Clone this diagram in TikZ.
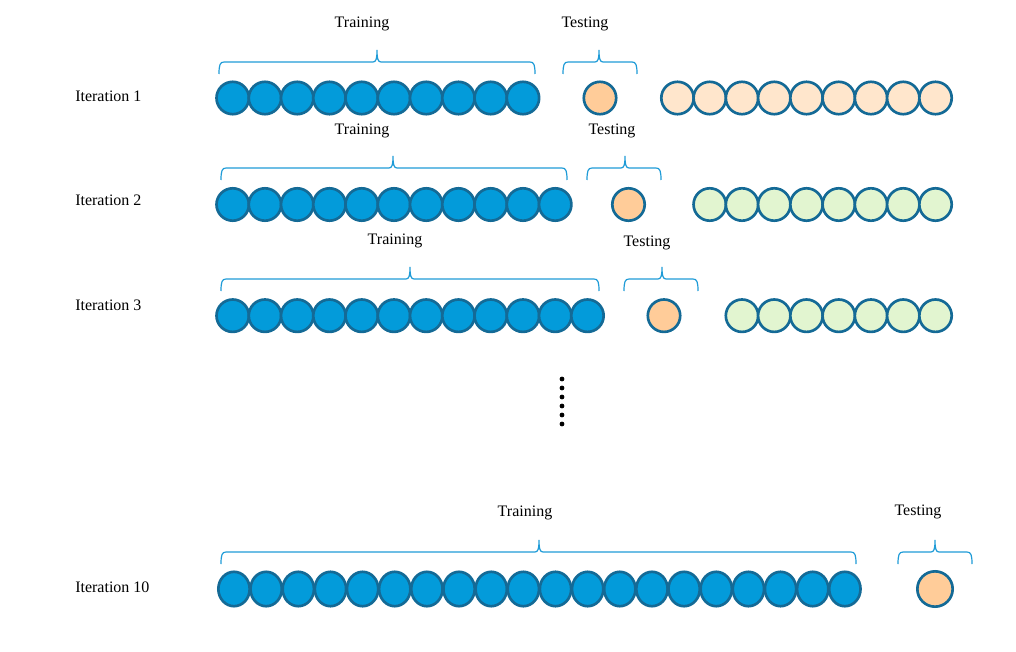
\documentclass[tikz,border=0pt]{standalone}
\usepackage{fontspec}
\setmainfont{Liberation Serif}
\usetikzlibrary{shapes.geometric}

\definecolor{trainblue}{RGB}{3,155,218}
\definecolor{ringblue}{RGB}{20,106,150}
\definecolor{testpeach}{RGB}{255,204,153}
\definecolor{restpeach}{RGB}{255,230,204}
\definecolor{restgreen}{RGB}{226,245,208}
\definecolor{braceblue}{RGB}{30,155,215}

\begin{document}
\begin{tikzpicture}[x=0.75pt,y=-0.75pt,
    ball/.style={circle,draw=ringblue,line width=2pt,minimum size=24.3pt,inner sep=0pt},
    longball/.style={ellipse,draw=ringblue,line width=2pt,minimum width=23.5pt,minimum height=25.8pt,inner sep=0pt},
    bracket/.style={draw=braceblue,line width=0.9pt},
    toptext/.style={font=\fontsize{12}{14}\selectfont,anchor=base,inner sep=0pt},
    itertext/.style={font=\fontsize{12}{14}\selectfont,anchor=base west,inner sep=0pt},
    dot/.style={circle,fill=black,minimum size=3.6pt,inner sep=0pt}]
  \useasboundingbox (0,0) rectangle (1016,652);

  %% Rows 1 to 3: training, testing and remaining folds
  \foreach \r/\y/\n/\s/\m/\col in {1/98/10/600/9/restpeach,2/204.5/11/628.5/8/restgreen,3/315.7/12/664/7/restgreen}
  {
    \foreach \i in {1,...,\n}
      \node[ball,fill=trainblue] (T\r-\i) at ({232.7+(\i-1)*32.25},\y) {};
    \node[ball,fill=testpeach] (S\r) at (\s,\y) {};
    \foreach \i in {1,...,\m}
      \node[ball,fill=\col] (R\r-\i) at ({935.5-(\m-\i)*32.25},\y) {};
  }

  %% Row 10
  \foreach \i in {1,...,20}
    \node[longball,fill=trainblue] (T10-\i) at ({234+(\i-1)*32.15},589) {};
  \node[ball,fill=testpeach,minimum size=26.5pt] (S10) at (935,589) {};

  %% Braces over the folds
  \foreach \a/\b/\c/\l in {219/535/377/62,563/637/599/62,
                           221/567/393/168,587/661/625/168,
                           221/599/410/279,624/698/662/279,
                           221/856/539/552,898/972/935/552}
  {
    \draw[bracket] (\a,\l+12) .. controls (\a,\l+3) and (\a+1,\l) .. (\a+5,\l)
      -- (\c-4,\l) .. controls (\c-1,\l) and (\c,\l-3) .. (\c,\l-12)
      .. controls (\c,\l-3) and (\c+1,\l) .. (\c+4,\l)
      -- (\b-5,\l) .. controls (\b-1,\l) and (\b,\l+3) .. (\b,\l+12);
  }

  %% Labels
  \node[toptext] (TR1) at (362,28) {Training};
  \node[toptext] (TE1) at (585,28) {Testing};
  \node[toptext] (TR2) at (362,135) {Training};
  \node[toptext] (TE2) at (612,135) {Testing};
  \node[toptext] (TR3) at (395,244) {Training};
  \node[toptext] (TE3) at (647,246) {Testing};
  \node[toptext] (TR10) at (525,516) {Training};
  \node[toptext] (TE10) at (918,515) {Testing};

  \node[itertext] (IT1) at (75,101.7) {Iteration 1};
  \node[itertext] (IT2) at (75,205.7) {Iteration 2};
  \node[itertext] (IT3) at (75,310.7) {Iteration 3};
  \node[itertext] (IT10) at (75,592) {Iteration 10};

  %% Vertical dots
  \foreach \k in {0,...,5}
    \node[dot] (D\k) at (562,{379+9*\k}) {};
\end{tikzpicture}
\end{document}
